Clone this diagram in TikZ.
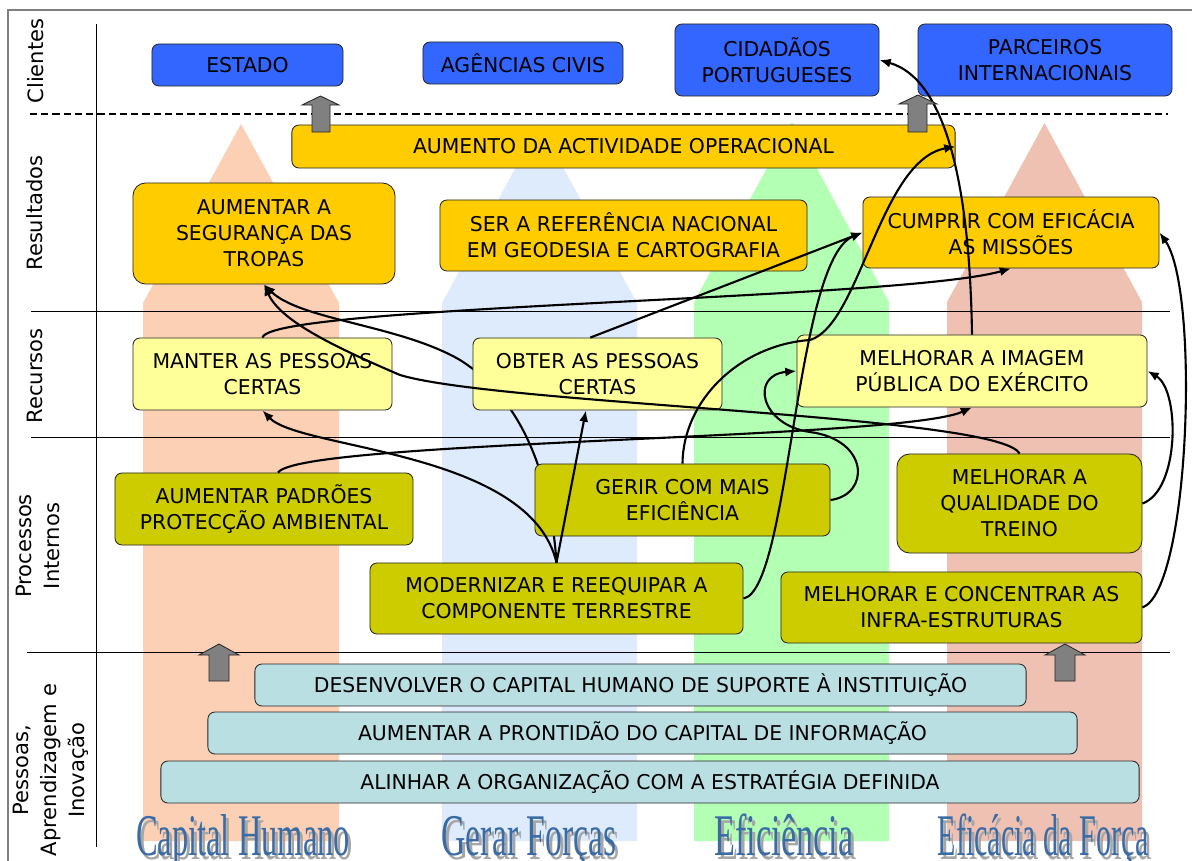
\documentclass[tikz,border=0pt]{standalone}
\usepackage{fontspec}
\setmainfont{DejaVu Sans}
\newfontfamily\wordartfont{Liberation Serif}
\usetikzlibrary{arrows.meta}
\pgfdeclarelayer{bg}
\pgfdeclarelayer{back}
\pgfsetlayers{bg,back,main}
\definecolor{clientblue}{RGB}{51,102,255}
\definecolor{resultgold}{RGB}{255,204,0}
\definecolor{resourceyellow}{RGB}{255,255,153}
\definecolor{processolive}{RGB}{204,204,0}
\definecolor{learningteal}{RGB}{186,223,227}
\definecolor{colpeach}{RGB}{252,208,180}
\definecolor{colblue}{RGB}{221,235,252}
\definecolor{colgreen}{RGB}{179,255,179}
\definecolor{colsalmon}{RGB}{238,193,178}
\definecolor{wordblue}{RGB}{59,107,165}
\begin{document}
\begin{tikzpicture}
[x=0.025cm, y=-0.025cm,
box/.style={draw=black!85, line width=0.6pt, rounded corners=5pt, align=center, inner sep=0pt, font=\fontsize{14.5}{18.5}\selectfont},
client node/.style={box, fill=clientblue},
result node/.style={box, fill=resultgold},
resource node/.style={box, fill=resourceyellow},
process node/.style={box, fill=processolive},
learning node/.style={box, fill=learningteal},
row label/.style={rotate=90, align=center, font=\fontsize{15}{20}\selectfont},
wordart/.style={anchor=base, inner sep=0pt, text=wordblue, font=\wordartfont\fontsize{42}{42}\selectfont},
wordart shadow/.style={wordart, text=black!35},
link/.style={-{Latex[length=8pt,width=6.5pt]}, line width=1.5pt},
sep/.style={line width=0.7pt},
block arrow/.style={draw=black!85, line width=0.6pt, fill=black!50}]
\useasboundingbox (0,0) rectangle (1192,861);

\begin{pgfonlayer}{bg}
\fill[colpeach] (143,841) -- (143,303) -- (241,124) -- (339,303) -- (339,841) -- cycle;
\fill[colblue] (442,841) -- (442,303) -- (539.5,124) -- (637,303) -- (637,841) -- cycle;
\fill[colgreen] (694,841) -- (694,302) -- (792,122) -- (889,302) -- (889,841) -- cycle;
\fill[colsalmon] (947,841) -- (947,302) -- (1044.5,123) -- (1142,302) -- (1142,841) -- cycle;
\draw[black!50, line width=0.8pt] (8,861) -- (8,10) -- (1192,10);
\draw[sep] (96,24) -- (96,847);
\draw[line width=1.4pt, dash pattern=on 5pt off 3pt] (30,114) -- (1168,114);
\draw[sep] (31,311) -- (1170,311);
\draw[sep] (31,437) -- (1170,437);
\draw[sep] (27,652) -- (1170,652);
\end{pgfonlayer}

\node[row label] (clientes) at (36,61) {Clientes};
\node[row label] (resultados) at (35,213) {Resultados};
\node[row label] (recursos) at (35,376) {Recursos};
\node[row label] (processos) at (38,546) {Processos\\Internos};
\node[row label] (pessoas) at (51,770) {Pessoas,\\Aprendizagem e\\Inovação};

\node[client node, minimum width=4.775cm, minimum height=1.05cm] (estado) at (247.5,65) {ESTADO};
\node[client node, minimum width=5cm, minimum height=1.05cm] (agencias) at (523,63) {AGÊNCIAS CIVIS};
\node[client node, minimum width=5.1cm, minimum height=1.8cm] (cidadaos) at (777,60) {CIDADÃOS\\PORTUGUESES};
\node[client node, minimum width=6.35cm, minimum height=1.8cm] (parceiros) at (1045,60) {PARCEIROS\\INTERNACIONAIS};

\node[result node, minimum width=16.575cm, minimum height=1.075cm] (aumento) at (623.5,146.5) {AUMENTO DA ACTIVIDADE OPERACIONAL};
\node[result node, rounded corners=9pt, minimum width=6.55cm, minimum height=2.525cm] (tropas) at (264,233.5) {AUMENTAR A\\SEGURANÇA DAS\\TROPAS};
\node[result node, minimum width=9.175cm, minimum height=1.775cm] (referencia) at (623.5,235.5) {SER A REFERÊNCIA NACIONAL\\EM GEODESIA E CARTOGRAFIA};
\node[result node, minimum width=7.4cm, minimum height=1.775cm] (cumprir) at (1011,232.5) {CUMPRIR COM EFICÁCIA\\AS MISSÕES};

\node[resource node, minimum width=6.475cm, minimum height=1.8cm] (manter) at (262.5,374) {MANTER AS PESSOAS\\CERTAS};
\node[resource node, minimum width=6.225cm, minimum height=1.8cm] (obter) at (597.5,374) {OBTER AS PESSOAS\\CERTAS};
\node[resource node, minimum width=8.75cm, minimum height=1.8cm] (imagem) at (972,371) {MELHORAR A IMAGEM\\PÚBLICA DO EXÉRCITO};

\node[process node, minimum width=7.45cm, minimum height=1.8cm] (padroes) at (264,509) {AUMENTAR PADRÕES\\PROTECÇÃO AMBIENTAL};
\node[process node, minimum width=7.375cm, minimum height=1.8cm] (gerir) at (682.5,500) {GERIR COM MAIS\\EFICIÊNCIA};
\node[process node, rounded corners=9pt, minimum width=6.125cm, minimum height=2.475cm] (treino) at (1019.5,503.5) {MELHORAR A\\QUALIDADE DO\\TREINO};
\node[process node, minimum width=9.325cm, minimum height=1.775cm] (modernizar) at (556.5,598.5) {MODERNIZAR E REEQUIPAR A\\COMPONENTE TERRESTRE};
\node[process node, minimum width=9.025cm, minimum height=1.775cm] (infra) at (961.5,607.5) {MELHORAR E CONCENTRAR AS\\INFRA-ESTRUTURAS};

\node[learning node, minimum width=19.275cm, minimum height=1.05cm] (desenvolver) at (640.5,685) {DESENVOLVER O CAPITAL HUMANO DE SUPORTE À INSTITUIÇÃO};
\node[learning node, minimum width=21.725cm, minimum height=1.05cm] (prontidao) at (642.5,733) {AUMENTAR A PRONTIDÃO DO CAPITAL DE INFORMAÇÃO};
\node[learning node, minimum width=24.45cm, minimum height=1.05cm] (alinhar) at (650,782) {ALINHAR A ORGANIZAÇÃO COM A ESTRATÉGIA DEFINIDA};

\node[wordart shadow] (capital shadow) at (246,859) {\scalebox{0.55}[1]{Capital Humano}};
\node[wordart] (capital) at (243,855) {\scalebox{0.55}[1]{Capital Humano}};
\node[wordart shadow] (gerar shadow) at (532,859) {\scalebox{0.57}[1]{Gerar Forças}};
\node[wordart] (gerar) at (529,855) {\scalebox{0.57}[1]{Gerar Forças}};
\node[wordart shadow] (eficiencia shadow) at (787,859) {\scalebox{0.58}[1]{Eficiência}};
\node[wordart] (eficiencia) at (784,855) {\scalebox{0.58}[1]{Eficiência}};
\node[wordart shadow] (eficacia shadow) at (1046,859) {\scalebox{0.51}[1]{Eficácia da Força}};
\node[wordart] (eficacia) at (1043,855) {\scalebox{0.51}[1]{Eficácia da Força}};

\begin{pgfonlayer}{back}
\draw[link] (modernizar.north) .. controls (548,440) and (500,385) .. (460,360) .. controls (400,325) and (300,320) .. (tropas.south);
\end{pgfonlayer}

\draw[link] (modernizar.north) -- ([xshift=-0.29cm]obter.south);
\draw[link] (modernizar.north) .. controls (530,450) and (300,450) .. (manter.south);
\draw[link] ([xshift=0.35cm]padroes.north) .. controls (300,440) and (900,440) .. (imagem.south);
\draw[link] (manter.north) .. controls (270,305) and (900,300) .. (cumprir.south);
\draw[link] (treino.north) .. controls (1000,415) and (500,405) .. (400,375) .. controls (330,345) and (280,320) .. (tropas.south);
\draw[link] ([xshift=-0.18cm]obter.north) -- (cumprir.west);
\draw[link] (gerir.north) .. controls (683,400) and (740,345) .. (810,340) .. controls (860,325) and (880,160) .. (aumento.east);
\draw[link] (modernizar.east) .. controls (790,590) and (795,260) .. (cumprir.west);
\draw[link] (gerir.east) .. controls (870,495) and (870,440) .. (810,432) .. controls (760,425) and (750,375) .. (imagem.west);
\draw[link] (infra.east) .. controls (1190,590) and (1200,290) .. (cumprir.east);
\draw[link] (treino.east) .. controls (1180,490) and (1180,390) .. (imagem.east);
\draw[link] (imagem.north) .. controls (970,200) and (950,80) .. (cidadaos.east);

\draw[block arrow] (312,132) -- (312,105) -- (302,105) -- (320.5,96) -- (339,105) -- (330,105) -- (330,132) -- cycle;
\draw[block arrow] (908,132) -- (908,104) -- (899,104) -- (918,95) -- (937,104) -- (927,104) -- (927,132) -- cycle;
\draw[block arrow] (209,681) -- (209,655) -- (199,655) -- (219,644) -- (239,655) -- (229,655) -- (229,681) -- cycle;
\draw[block arrow] (1055,681) -- (1055,655) -- (1045,655) -- (1065,644) -- (1085,655) -- (1075,655) -- (1075,681) -- cycle;
\end{tikzpicture}
\end{document}
